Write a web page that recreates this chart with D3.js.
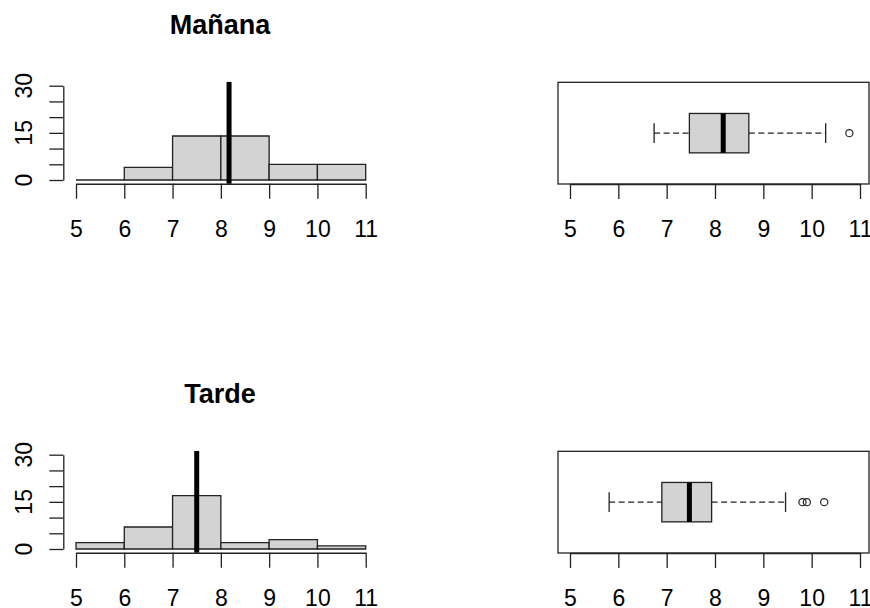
<!DOCTYPE html>
<html>
<head>
<meta charset="utf-8">
<script src="https://cdn.jsdelivr.net/npm/d3@7"></script>
<style>
  body { margin: 0; background: white; }
  svg { display: block; font-family: "Liberation Sans", Arial, sans-serif; }
</style>
</head>
<body>
<svg id="chart" width="870" height="608"></svg>
<script>
// histogram breaks and counts
const breaks = [5, 6, 7, 8, 9, 10, 11];
const mananaCounts = [0, 4, 14, 14, 5, 5];
const tardeCounts = [2, 7, 17, 2, 3, 1];
const yTicks = [0, 5, 10, 15, 20, 25, 30];
const yLabels = [0, 15, 30];
const xTicks = [5, 6, 7, 8, 9, 10, 11];

// vertical reference line drawn on each histogram
const mananaLine = 8.17;
const tardeLine = 7.50;

// boxplot stats: lower whisker, q1, median, q3, upper whisker
const mananaBox = [6.74, 7.47, 8.17, 8.70, 10.29];
const mananaOut = [10.78];
const tardeBox = [5.81, 6.90, 7.47, 7.93, 9.46];
const tardeOut = [9.81, 9.90, 10.26];

const svg = d3.select('#chart');
const rowOffset = 369;
const ink = "#222";
const tickFont = '23px';

function styleXAxis(xa) {
    xa.selectAll('path, line').attr('stroke', ink).attr('stroke-width', 1.3);
    xa.selectAll('text').attr('y', 53).attr('dy', null)
        .attr('fill', 'black').style('font-size', tickFont).style('font-family', 'inherit');
}

function drawHist(top, title, counts, vline) {
    const x = d3.scaleLinear().domain([5, 11]).range([76, 365.7]);
    const y = d3.scaleLinear().domain([0, 30]).range([top + 180, top + 85.7]);
    const g = svg.append('g');

    g.append('text')
        .attr('x', 220)
        .attr('y', top + 34)
        .attr('text-anchor', 'middle')
        .style('font-size', '27px')
        .style('font-weight', 'bold')
        .text(title);

    const bins = counts.map((c, i) => ({x0: breaks[i], x1: breaks[i + 1], n: c}));
    g.selectAll('path.bar').data(bins).enter().append('path')
        .attr('class', 'bar')
        .attr('d', d => `M${x(d.x0)},${y(0)}H${x(d.x1)}V${y(d.n)}H${x(d.x0)}Z`)
        .attr('fill', '#d3d3d3')
        .attr('stroke', ink)
        .attr('stroke-width', 1.3);

    // line across the whole plot region (usr -1.2 .. 31.2)
    g.append('line')
        .attr('x1', x(vline)).attr('x2', x(vline))
        .attr('y1', y(-1.2)).attr('y2', y(31.2))
        .attr('stroke', 'black')
        .attr('stroke-width', 5);

    const xa = g.append('g')
        .attr('transform', `translate(0,${y(-1.2)})`)
        .call(d3.axisBottom(x).tickValues(xTicks).tickFormat(d3.format('d')).tickSize(15).tickSizeOuter(0));
    styleXAxis(xa);

    const ya = g.append('g')
        .attr('transform', `translate(63.3,0)`)
        .call(d3.axisLeft(y).tickValues(yTicks).tickSize(14).tickSizeOuter(0).tickFormat(''));
    ya.selectAll('path, line').attr('stroke', ink).attr('stroke-width', 1.3);

    g.selectAll('text.ylab').data(yLabels).enter().append('text')
        .attr('class', 'ylab')
        .attr('transform', d => `translate(32,${y(d)}) rotate(-90)`)
        .attr('text-anchor', 'middle')
        .style('font-size', tickFont)
        .text(d => d);
}

function drawBox(top, stats, outliers) {
    const x = d3.scaleLinear().domain([5, 11]).range([570, 860]);
    const g = svg.append('g');
    const frameTop = top + 82.3, frameBottom = top + 184;
    const cy = (frameTop + frameBottom) / 2;
    const half = 19.7;

    g.append('rect')
        .attr('x', 558).attr('y', frameTop)
        .attr('width', 869 - 558).attr('height', frameBottom - frameTop)
        .attr('fill', 'none').attr('stroke', ink).attr('stroke-width', 1.3);

    const [lo, q1, med, q3, hi] = stats;
    // whiskers
    g.selectAll('line.wh').data([[lo, q1], [q3, hi]]).enter().append('line')
        .attr('class', 'wh')
        .attr('x1', d => x(d[0])).attr('x2', d => x(d[1]))
        .attr('y1', cy).attr('y2', cy)
        .attr('stroke', ink).attr('stroke-width', 1.3)
        .attr('stroke-dasharray', '6,3.5');
    g.selectAll('line.cap').data([lo, hi]).enter().append('line')
        .attr('class', 'cap')
        .attr('x1', d => x(d)).attr('x2', d => x(d))
        .attr('y1', cy - half / 2).attr('y2', cy + half / 2)
        .attr('stroke', ink).attr('stroke-width', 1.3);

    g.append('rect')
        .attr('x', x(q1)).attr('y', cy - half)
        .attr('width', x(q3) - x(q1)).attr('height', half * 2)
        .attr('fill', '#d3d3d3').attr('stroke', ink).attr('stroke-width', 1.3);
    g.append('line')
        .attr('x1', x(med)).attr('x2', x(med))
        .attr('y1', cy - half).attr('y2', cy + half)
        .attr('stroke', 'black').attr('stroke-width', 5);

    g.selectAll('circle').data(outliers).enter().append('circle')
        .attr('cx', d => x(d)).attr('cy', cy).attr('r', 3.6)
        .attr('fill', 'none').attr('stroke', ink).attr('stroke-width', 1.2);

    const xa = g.append('g')
        .attr('transform', `translate(0,${frameBottom})`)
        .call(d3.axisBottom(x).tickValues(xTicks).tickFormat(d3.format('d')).tickSize(15).tickSizeOuter(0));
    styleXAxis(xa);
}

drawHist(0, 'Mañana', mananaCounts, mananaLine);
drawBox(0, mananaBox, mananaOut);
drawHist(rowOffset, 'Tarde', tardeCounts, tardeLine);
drawBox(rowOffset, tardeBox, tardeOut);
</script>
</body>
</html>
